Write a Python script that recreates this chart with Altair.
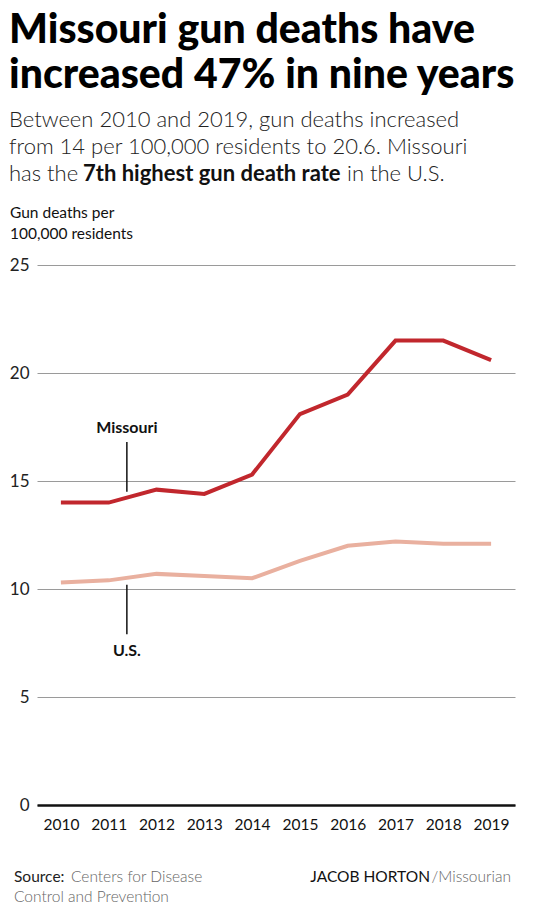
import altair as alt
import pandas as pd

years = list(range(2010, 2020))
missouri = [14.0, 14.0, 14.6, 14.4, 15.3, 18.1, 19.0, 21.5, 21.5, 20.6]
us = [10.3, 10.4, 10.7, 10.6, 10.5, 11.3, 12.0, 12.2, 12.1, 12.1]
y_ticks = [0, 5, 10, 15, 20, 25]
series_names = ["Missouri", "U.S."]
series_colors = ["#c1272d", "#e9b09f"]

# annotation positions in data units
label_year = 2011.38
mo_label_value = 17.2
mo_leader = [16.8, 14.5]
us_leader = [10.2, 7.9]
us_label_value = 6.9

df = pd.DataFrame({
    "year": years * 2,
    "value": missouri + us,
    "series": ["Missouri"] * len(years) + ["U.S."] * len(years),
})

W, H = 478, 540
FONT = "Lato"
BLACK_FONT = "'Lato Black', 'Lato Heavy', Lato"
LIGHT_FONT = "'Lato Light', Lato"

xscale = alt.Scale(domain=[2009.5, 2019.5], nice=False, zero=False)
yscale = alt.Scale(domain=[0, 25], nice=False)

lines = alt.Chart(df).mark_line(strokeWidth=4).encode(
    x=alt.X("year:Q", scale=xscale,
            axis=alt.Axis(values=years, format="d", title=None, grid=False, ticks=False,
                          domainColor="#111", domainWidth=2.5, labelFont=FONT,
                          labelFontSize=15.5, labelColor="#111", labelPadding=12,
                          labelFlush=False)),
    y=alt.Y("value:Q", scale=yscale,
            axis=alt.Axis(values=y_ticks, title=None, domain=False, ticks=False,
                          gridColor="#9a9a9a", gridWidth=1, labelFont=FONT,
                          labelFontSize=17, labelColor="#222", labelPadding=8)),
    color=alt.Color("series:N", scale=alt.Scale(domain=series_names, range=series_colors),
                    legend=None),
    detail="series:N",
)

leaders_df = pd.DataFrame({
    "year": [label_year, label_year],
    "y1": [mo_leader[0], us_leader[0]],
    "y2": [mo_leader[1], us_leader[1]],
})
leaders = alt.Chart(leaders_df).mark_rule(color="#111", strokeWidth=1.5).encode(
    x=alt.X("year:Q", scale=xscale), y=alt.Y("y1:Q", scale=yscale), y2="y2:Q")

labels_df = pd.DataFrame({
    "year": [label_year, label_year],
    "value": [mo_label_value, us_label_value],
    "name": series_names,
})
labels = alt.Chart(labels_df).mark_text(font=FONT, fontSize=16, fontWeight="bold",
                                        color="#111", baseline="alphabetic").encode(
    x=alt.X("year:Q", scale=xscale), y=alt.Y("value:Q", scale=yscale), text="name:N")


def txt(x, y, s, size, weight="normal", color="#111", align="left", font=FONT):
    return alt.Chart(alt.Data(values=[{}])).mark_text(
        text=s, font=font, fontSize=size, fontWeight=weight, color=color,
        align=align, baseline="alphabetic").encode(x=alt.value(x), y=alt.value(y))


texts = [
    txt(-28, -222, "Missouri gun deaths have", 41, 900, "#000", font=BLACK_FONT),
    txt(-28, -177, "increased 47% in nine years", 41, 900, "#000", font=BLACK_FONT),
    txt(-28, -138, "Between 2010 and 2019, gun deaths increased", 22, 300, "#222", font=LIGHT_FONT),
    txt(-28, -111, "from 14 per 100,000 residents to 20.6. Missouri", 22, 300, "#222", font=LIGHT_FONT),
    txt(-28, -84, "has the", 22, 300, "#222", font=LIGHT_FONT),
    txt(46, -84, "7th highest gun death rate", 22, "bold", "#111"),
    txt(310, -84, "in the U.S.", 22, 300, "#222", font=LIGHT_FONT),
    txt(-27, -47, "Gun deaths per", 15.5, "normal", "#111"),
    txt(-27, -26, "100,000 residents", 15.5, "normal", "#111"),
    txt(-23, 617, "Source:", 15.5, "normal", "#222"),
    txt(34, 617, "Centers for Disease", 15.5, 300, "#666", font=LIGHT_FONT),
    txt(-23, 637, "Control and Prevention", 15.5, 300, "#666", font=LIGHT_FONT),
    txt(393, 617, "JACOB HORTON", 15.5, "normal", "#111", "right"),
    txt(474, 617, "/Missourian", 15.5, 300, "#666", "right", font=LIGHT_FONT),
]

chart = alt.layer(lines, leaders, labels, *texts).properties(
    width=W, height=H,
    autosize=alt.AutoSizeParams(type="none"),
    padding={"left": 29, "top": 257, "right": 22, "bottom": 110},
    background="white",
).configure_view(stroke=None)

chart.save("out.html", embed_options={"renderer": "svg", "actions": False})
